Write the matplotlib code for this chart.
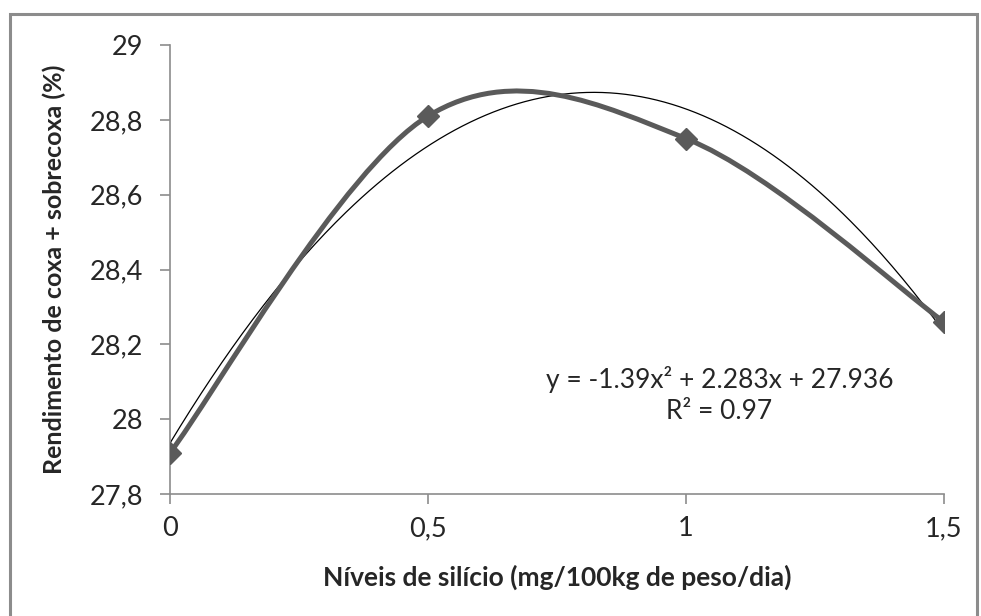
import matplotlib
matplotlib.use("Agg")
import matplotlib.pyplot as plt
import numpy as np
from matplotlib.path import Path
from matplotlib.patches import PathPatch, Rectangle

# ---- data ----
x_levels = [0, 0.5, 1, 1.5]
y_yield = [27.91, 28.81, 28.75, 28.26]
trend_coef = [-1.39, 2.283, 27.936]   # y = a x^2 + b x + c
x_ticks = [0, 0.5, 1, 1.5]
x_ticklabels = ["0", "0,5", "1", "1,5"]
y_ticks = [27.8, 28, 28.2, 28.4, 28.6, 28.8, 29]
y_ticklabels = ["27,8", "28", "28,2", "28,4", "28,6", "28,8", "29"]
eq_text = "y = -1.39x² + 2.283x + 27.936\nR² = 0.97"
xlabel = "Níveis de silício (mg/100kg de peso/dia)"
ylabel = "Rendimento de coxa + sobrecoxa (%)"

plt.rcParams['font.family'] = ['Lato', 'DejaVu Sans']

fig = plt.figure(figsize=(9.81, 6.16), dpi=100)
ax = fig.add_axes([170/981, 1-494/616, (944-170)/981, (494-45)/616])

# figure border
fig.patches.append(Rectangle((9.5/981, -0.05), (977-9.5)/981, 1.05-13.5/616,
                             transform=fig.transFigure, fill=False,
                             edgecolor='#8c8c8c', linewidth=2.2))

line_col = '#5a5a5a'

# trendline (thin black)
xx = np.linspace(x_ticks[0], x_ticks[-1], 300)
ax.plot(xx, np.polyval(trend_coef, xx), color='black', lw=0.9, zorder=2)

# smoothed line (Excel-like bezier through the points)
P = np.column_stack([x_levels, y_yield]).astype(float)
n = len(P)
verts = [tuple(P[0])]
codes = [Path.MOVETO]
for i in range(n - 1):
    p_prev = P[i - 1] if i > 0 else P[i]
    p_next2 = P[i + 2] if i + 2 < n else P[i + 1]
    c1 = P[i] + (P[i + 1] - p_prev) / 6.0
    c2 = P[i + 1] - (p_next2 - P[i]) / 6.0
    verts += [tuple(c1), tuple(c2), tuple(P[i + 1])]
    codes += [Path.CURVE4] * 3
ax.add_patch(PathPatch(Path(verts, codes), facecolor='none', edgecolor=line_col,
                       lw=3.6, capstyle='round', joinstyle='round', zorder=3))
ax.plot(x_levels, y_yield, linestyle='none', marker='D', ms=11.5,
        color=line_col, mec=line_col, zorder=4)

ax.set_xlim(x_ticks[0], x_ticks[-1])
ax.set_ylim(y_ticks[0], y_ticks[-1])
ax.set_xticks(x_ticks)
ax.set_xticklabels(x_ticklabels)
ax.set_yticks(y_ticks)
ax.set_yticklabels(y_ticklabels)

for s in ['top', 'right']:
    ax.spines[s].set_visible(False)
for s in ['left', 'bottom']:
    ax.spines[s].set_color('#8c8c8c')
    ax.spines[s].set_linewidth(1.2)
ax.tick_params(axis='both', direction='out', length=7, width=1.2,
               color='#8c8c8c', labelsize=19.5, labelcolor='#262626', pad=12)
ax.tick_params(axis='x', pad=9)

ax.set_xlabel(xlabel, fontsize=19, fontweight='bold', color='#262626', labelpad=17)
ax.set_ylabel(ylabel, fontsize=18, fontweight='bold', color='#262626', labelpad=17)

ax.text(1.065, 28.065, eq_text, fontsize=19, color='#262626', ha='center',
        va='center', linespacing=1.3)

fig.savefig("out.png", dpi=100)
